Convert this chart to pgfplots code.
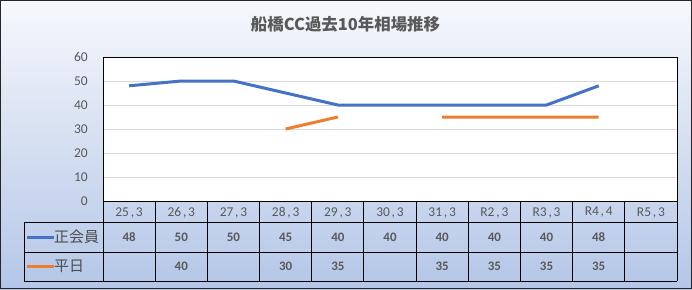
\documentclass[border=0pt]{standalone}
\usepackage{fontspec}
\setmainfont{Carlito}
\newfontfamily\jp{Noto Sans CJK JP}
\usepackage{pgfplots}
\usepackage{pgfplotstable}
\pgfplotsset{compat=1.18}
\definecolor{sblue}{HTML}{4472C4}
\definecolor{sorange}{HTML}{ED7D31}
\definecolor{tgray}{HTML}{595959}
\definecolor{ggray}{HTML}{D9D9D9}
\definecolor{bgtop}{RGB}{246,248,252}
\definecolor{bgbot}{RGB}{180,198,231}
\newcommand{\cm}{\kern1.8bp,\kern1.8bp}
\pgfplotstableread{
x sei hei
0 48 nan
1 50 40
2 50 nan
3 45 30
4 40 35
5 40 nan
6 40 35
7 40 35
8 40 35
9 48 35
10 nan nan
}\data
\begin{document}
\begin{tikzpicture}[x=1bp,y=1bp]
\shade[top color=bgtop, bottom color=bgbot] (0,0) rectangle (692,289);
\node[text=tgray, font=\jp\bfseries\fontsize{16.5}{18}\selectfont] at (345.5,265) {船橋CC過去10年相場推移};
\begin{axis}[
  at={(103bp,88bp)}, anchor=south west,
  scale only axis, width=574bp, height=144bp,
  xmin=-0.5, xmax=10.5, ymin=0, ymax=60,
  ytick={0,10,...,60}, xtick={0,...,10},
  xticklabels={{25\cm3},{26\cm3},{27\cm3},{28\cm3},{29\cm3},{30\cm3},{31\cm3},{R2\cm3},{R3\cm3},{R4\cm4},{R5\cm3}},
  major tick length=0,
  ymajorgrids, grid style={ggray, line width=0.8bp},
  axis line style={black, line width=0.9bp},
  axis background/.style={fill=white},
  /pgf/number format/assume math mode=true,
  ticklabel style={text=tgray, font=\fontsize{13.5}{15}\selectfont},
  yticklabel style={anchor=east, inner sep=0pt, xshift=-15bp},
  xticklabel style={anchor=center, inner sep=0pt, yshift=-11.5bp},
  unbounded coords=jump,
  clip=false,
]
\addplot[sblue, line width=3bp, line join=round] table[x=x, y=sei] {\data};
\addplot[sorange, line width=3bp, line join=round] table[x=x, y=hei] {\data};
\end{axis}
% data table grid
\foreach \k in {0,...,11} {
  \draw[black, line width=0.9bp] ({103+52.1818*\k},88) -- ({103+52.1818*\k},8);
}
\draw[black, line width=0.9bp] (24,67) -- (24,8);
\foreach \yy in {67,37,8} {
  \draw[black, line width=0.9bp] (24,\yy) -- (677,\yy);
}
\foreach \v [count=\i from 0] in {48,50,50,45,40,40,40,40,40,48,{}} {
  \node[text=tgray, font=\bfseries\fontsize{13}{15}\selectfont] at ({103+52.1818*(\i+0.5)},52) {\v};
}
\foreach \v [count=\i from 0] in {{},40,{},30,35,{},35,35,35,35,{}} {
  \node[text=tgray, font=\bfseries\fontsize{13}{15}\selectfont] at ({103+52.1818*(\i+0.5)},22.5) {\v};
}
\draw[sblue, line width=3bp] (27,52) -- (54,52);
\draw[sorange, line width=3bp] (27,22.5) -- (54,22.5);
\node[anchor=west, inner sep=0pt, text=tgray!85!black, font=\jp\fontsize{15}{17}\selectfont] at (54,52) {正会員};
\node[anchor=west, inner sep=0pt, text=tgray!85!black, font=\jp\fontsize{15}{17}\selectfont] at (54,22.5) {平日};
\draw[black!85, line width=1bp] (0.5,0.5) rectangle (691.5,288.5);
\pgfresetboundingbox
\useasboundingbox (0,0) rectangle (692,289);
\end{tikzpicture}
\end{document}
